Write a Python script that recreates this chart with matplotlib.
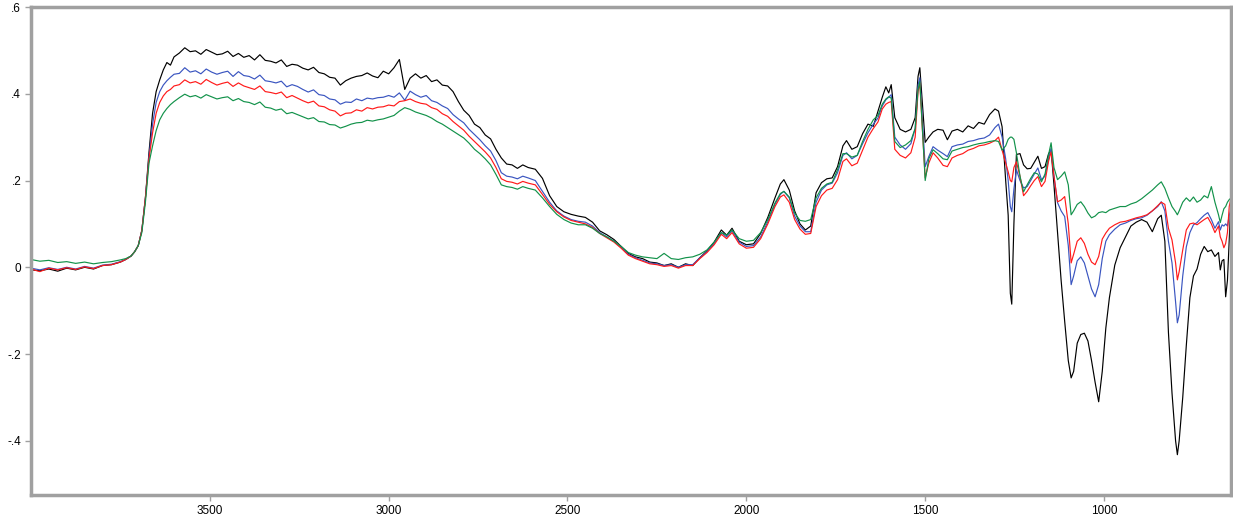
import matplotlib

matplotlib.use("Agg")
import matplotlib.pyplot as plt
import numpy as np

# Wavenumber grid (cm-1), shared by all four spectra
wavenumber = [
    # baseline
    4000, 3975, 3950, 3925, 3900, 3875, 3850, 3825, 3800, 3775, 3750,
    # O-H rise
    3735, 3720, 3710, 3700, 3690, 3680, 3670, 3660, 3650, 3640, 3630, 3620, 3610, 3600,
    # broad plateau
    3585, 3570, 3555, 3540, 3525, 3510, 3495, 3480, 3465, 3450,
    3435, 3420, 3405, 3390, 3375, 3360, 3345, 3330, 3315, 3300,
    3285, 3270, 3255, 3240, 3225, 3210, 3195, 3180, 3165, 3150,
    3135, 3120, 3105, 3090, 3075, 3060, 3045, 3030, 3015, 3000,
    2985, 2970, 2955, 2940, 2925, 2910, 2895, 2880, 2865, 2850,
    2835, 2820, 2805, 2790, 2775, 2760, 2745, 2730, 2715, 2700,
    2685, 2670, 2655, 2640, 2625, 2610,
    # valley
    2590, 2570, 2550, 2530, 2510, 2490, 2470, 2450, 2430, 2410,
    2390, 2370, 2350, 2330, 2310, 2290, 2270, 2250, 2230, 2210,
    2190, 2170, 2150, 2130,
    2110, 2090, 2070, 2055, 2040, 2020, 2000, 1980, 1960, 1940,
    1920, 1905, 1895, 1880, 1865, 1850, 1835, 1820,
    # fingerprint region
    1805, 1790, 1775, 1760, 1745, 1730, 1720, 1705, 1690, 1675,
    1660, 1645, 1632, 1620, 1610, 1602, 1595, 1585, 1570, 1555,
    1540, 1528, 1520, 1515, 1508, 1500, 1490, 1478, 1465, 1450,
    1438, 1425, 1410, 1395, 1380, 1365, 1350, 1335, 1320, 1305,
    1295, 1285, 1275, 1268, 1262, 1258, 1252, 1245, 1235, 1225,
    1215, 1205, 1195, 1185, 1175, 1165, 1155, 1148, 1140, 1130,
    1120, 1110, 1100, 1092, 1085, 1075, 1065, 1055, 1045, 1035,
    1025, 1015, 1005, 995, 985, 970, 955, 940, 925, 910,
    895, 880, 865, 850, 840, 830, 820, 810, 800, 795,
    790, 780, 770, 760, 750, 740, 730, 720, 710, 700,
    690, 680, 675, 670, 665, 660, 655, 650, 645,
]

black = [
    -0.006, -0.008, -0.004, -0.009, -0.002, -0.006, 0.000, -0.004, 0.004, 0.006, 0.012,
    0.018, 0.026, 0.036, 0.050, 0.085, 0.160, 0.265, 0.355, 0.405, 0.432, 0.455, 0.472, 0.466, 0.485,
    0.494, 0.506, 0.497, 0.499, 0.491, 0.502, 0.496, 0.490, 0.492, 0.498,
    0.486, 0.493, 0.484, 0.488, 0.478, 0.490, 0.477, 0.475, 0.471, 0.478,
    0.463, 0.468, 0.466, 0.459, 0.455, 0.461, 0.449, 0.446, 0.438, 0.436,
    0.420, 0.430, 0.436, 0.440, 0.442, 0.448, 0.441, 0.437, 0.452, 0.446,
    0.460, 0.479, 0.410, 0.436, 0.446, 0.436, 0.442, 0.428, 0.432, 0.420,
    0.418, 0.405, 0.382, 0.362, 0.350, 0.330, 0.322, 0.305, 0.296, 0.272,
    0.252, 0.238, 0.236, 0.228, 0.236, 0.230,
    0.226, 0.205, 0.165, 0.140, 0.128, 0.122, 0.118, 0.115, 0.104, 0.084,
    0.075, 0.064, 0.048, 0.032, 0.024, 0.020, 0.012, 0.010, 0.004, 0.008,
    0.000, 0.008, 0.004, 0.022,
    0.038, 0.058, 0.086, 0.074, 0.090, 0.060, 0.052, 0.054, 0.078, 0.115,
    0.160, 0.192, 0.202, 0.178, 0.130, 0.100, 0.086, 0.095,
    0.172, 0.195, 0.204, 0.206, 0.232, 0.280, 0.292, 0.272, 0.278, 0.308,
    0.330, 0.325, 0.360, 0.392, 0.416, 0.402, 0.421, 0.345, 0.318, 0.312,
    0.318, 0.345, 0.440, 0.460, 0.380, 0.288, 0.300, 0.312, 0.318, 0.316,
    0.294, 0.314, 0.318, 0.312, 0.326, 0.320, 0.334, 0.330, 0.352, 0.365,
    0.360, 0.324, 0.200, 0.120, -0.060, -0.085, 0.100, 0.260, 0.262, 0.236,
    0.227, 0.228, 0.242, 0.256, 0.228, 0.232, 0.262, 0.270, 0.190, 0.080,
    -0.030, -0.125, -0.215, -0.255, -0.240, -0.175, -0.155, -0.152, -0.170, -0.215,
    -0.265, -0.310, -0.240, -0.140, -0.070, 0.005, 0.045, 0.070, 0.095, 0.104,
    0.110, 0.104, 0.082, 0.112, 0.120, 0.060, -0.150, -0.290, -0.400, -0.432,
    -0.400, -0.300, -0.180, -0.070, -0.020, -0.004, 0.030, 0.048, 0.036, 0.040,
    0.025, 0.034, -0.006, 0.015, 0.018, -0.068, -0.030, 0.063, 0.163,
]

blue = [
    -0.002, -0.006, -0.001, -0.005, 0.000, -0.004, 0.002, -0.002, 0.005, 0.007, 0.013,
    0.018, 0.026, 0.036, 0.050, 0.085, 0.160, 0.255, 0.330, 0.380, 0.405, 0.420, 0.430, 0.438, 0.445,
    0.447, 0.460, 0.450, 0.453, 0.446, 0.457, 0.450, 0.445, 0.449, 0.452,
    0.440, 0.451, 0.442, 0.440, 0.434, 0.443, 0.430, 0.428, 0.425, 0.429,
    0.416, 0.421, 0.417, 0.410, 0.404, 0.409, 0.398, 0.396, 0.388, 0.386,
    0.376, 0.381, 0.380, 0.388, 0.384, 0.390, 0.388, 0.391, 0.392, 0.396,
    0.392, 0.402, 0.385, 0.406, 0.398, 0.392, 0.396, 0.384, 0.380, 0.372,
    0.366, 0.352, 0.342, 0.333, 0.318, 0.306, 0.294, 0.280, 0.268, 0.246,
    0.218, 0.210, 0.208, 0.204, 0.210, 0.206,
    0.200, 0.175, 0.150, 0.130, 0.118, 0.110, 0.106, 0.104, 0.095, 0.080,
    0.070, 0.060, 0.046, 0.030, 0.022, 0.016, 0.010, 0.008, 0.004, 0.006,
    0.000, 0.006, 0.006, 0.022,
    0.036, 0.055, 0.080, 0.070, 0.084, 0.058, 0.048, 0.050, 0.070, 0.105,
    0.145, 0.168, 0.175, 0.160, 0.118, 0.095, 0.082, 0.082,
    0.150, 0.178, 0.190, 0.194, 0.218, 0.258, 0.264, 0.250, 0.258, 0.285,
    0.310, 0.330, 0.344, 0.372, 0.386, 0.392, 0.398, 0.300, 0.282, 0.272,
    0.285, 0.320, 0.420, 0.437, 0.340, 0.232, 0.255, 0.278, 0.270, 0.262,
    0.255, 0.278, 0.282, 0.284, 0.290, 0.292, 0.296, 0.298, 0.305, 0.322,
    0.330, 0.300, 0.250, 0.200, 0.140, 0.128, 0.180, 0.225, 0.200, 0.183,
    0.186, 0.200, 0.215, 0.229, 0.202, 0.210, 0.250, 0.275, 0.210, 0.149,
    0.130, 0.117, 0.050, -0.040, -0.020, 0.015, 0.024, 0.010, -0.020, -0.050,
    -0.068, -0.040, 0.020, 0.060, 0.075, 0.088, 0.098, 0.102, 0.108, 0.112,
    0.114, 0.120, 0.130, 0.140, 0.151, 0.130, 0.060, 0.010, -0.080, -0.128,
    -0.110, -0.020, 0.047, 0.080, 0.098, 0.103, 0.112, 0.120, 0.126, 0.110,
    0.090, 0.105, 0.086, 0.098, 0.095, 0.100, 0.095, 0.120, 0.133,
]

red = [
    -0.004, -0.010, -0.002, -0.006, -0.001, -0.005, 0.001, -0.003, 0.004, 0.006, 0.012,
    0.018, 0.026, 0.036, 0.050, 0.085, 0.160, 0.250, 0.310, 0.355, 0.380, 0.395, 0.405, 0.410, 0.418,
    0.421, 0.432, 0.425, 0.428, 0.422, 0.433, 0.426, 0.420, 0.424, 0.427,
    0.417, 0.425, 0.418, 0.414, 0.410, 0.418, 0.405, 0.403, 0.400, 0.404,
    0.391, 0.396, 0.390, 0.384, 0.379, 0.383, 0.372, 0.370, 0.363, 0.360,
    0.349, 0.355, 0.356, 0.363, 0.360, 0.368, 0.365, 0.369, 0.370, 0.374,
    0.372, 0.382, 0.384, 0.388, 0.382, 0.378, 0.376, 0.368, 0.364, 0.354,
    0.348, 0.336, 0.326, 0.316, 0.302, 0.290, 0.278, 0.266, 0.252, 0.230,
    0.204, 0.198, 0.196, 0.192, 0.198, 0.194,
    0.190, 0.168, 0.145, 0.128, 0.116, 0.108, 0.104, 0.100, 0.092, 0.078,
    0.068, 0.058, 0.044, 0.028, 0.020, 0.014, 0.008, 0.006, 0.002, 0.004,
    -0.002, 0.004, 0.004, 0.020,
    0.034, 0.052, 0.076, 0.066, 0.080, 0.054, 0.044, 0.046, 0.066, 0.100,
    0.140, 0.162, 0.167, 0.150, 0.110, 0.088, 0.076, 0.078,
    0.140, 0.165, 0.178, 0.182, 0.202, 0.244, 0.250, 0.234, 0.240, 0.270,
    0.300, 0.320, 0.335, 0.365, 0.376, 0.380, 0.382, 0.272, 0.258, 0.252,
    0.264, 0.300, 0.405, 0.425, 0.320, 0.206, 0.240, 0.264, 0.252, 0.235,
    0.232, 0.252, 0.258, 0.262, 0.270, 0.274, 0.280, 0.282, 0.286, 0.292,
    0.300, 0.270, 0.240, 0.220, 0.200, 0.197, 0.230, 0.243, 0.210, 0.165,
    0.175, 0.188, 0.200, 0.209, 0.186, 0.198, 0.245, 0.266, 0.210, 0.151,
    0.155, 0.163, 0.100, 0.010, 0.030, 0.060, 0.068, 0.055, 0.030, 0.012,
    0.006, 0.025, 0.065, 0.079, 0.090, 0.098, 0.104, 0.106, 0.110, 0.114,
    0.117, 0.121, 0.130, 0.142, 0.150, 0.145, 0.090, 0.063, 0.010, -0.029,
    -0.010, 0.040, 0.086, 0.100, 0.102, 0.098, 0.104, 0.110, 0.115, 0.100,
    0.080, 0.095, 0.070, 0.060, 0.045, 0.055, 0.080, 0.140, 0.160,
]

green = [
    0.018, 0.014, 0.016, 0.011, 0.013, 0.009, 0.012, 0.008, 0.011, 0.013, 0.017,
    0.020, 0.026, 0.036, 0.050, 0.080, 0.150, 0.240, 0.280, 0.315, 0.340, 0.355, 0.366, 0.375, 0.382,
    0.391, 0.399, 0.393, 0.396, 0.390, 0.398, 0.393, 0.388, 0.391, 0.393,
    0.384, 0.389, 0.382, 0.380, 0.375, 0.381, 0.369, 0.367, 0.362, 0.365,
    0.354, 0.357, 0.352, 0.347, 0.342, 0.345, 0.336, 0.335, 0.329, 0.328,
    0.321, 0.325, 0.330, 0.333, 0.334, 0.339, 0.337, 0.340, 0.342, 0.346,
    0.350, 0.360, 0.368, 0.364, 0.358, 0.354, 0.350, 0.344, 0.336, 0.330,
    0.322, 0.314, 0.306, 0.298, 0.286, 0.272, 0.262, 0.250, 0.236, 0.214,
    0.190, 0.186, 0.184, 0.180, 0.186, 0.182,
    0.178, 0.160, 0.140, 0.122, 0.110, 0.102, 0.098, 0.098, 0.090, 0.078,
    0.070, 0.060, 0.048, 0.034, 0.028, 0.024, 0.022, 0.020, 0.032, 0.020,
    0.018, 0.022, 0.024, 0.030,
    0.040, 0.058, 0.080, 0.074, 0.086, 0.066, 0.060, 0.062, 0.080, 0.110,
    0.148, 0.170, 0.175, 0.162, 0.125, 0.108, 0.106, 0.110,
    0.160, 0.182, 0.192, 0.196, 0.225, 0.262, 0.262, 0.254, 0.258, 0.290,
    0.318, 0.340, 0.350, 0.376, 0.388, 0.393, 0.390, 0.290, 0.276, 0.282,
    0.292, 0.320, 0.410, 0.428, 0.320, 0.200, 0.250, 0.271, 0.262, 0.250,
    0.248, 0.268, 0.272, 0.276, 0.278, 0.282, 0.285, 0.287, 0.290, 0.292,
    0.290, 0.270, 0.280, 0.295, 0.300, 0.300, 0.295, 0.264, 0.210, 0.174,
    0.190, 0.205, 0.218, 0.215, 0.197, 0.215, 0.260, 0.287, 0.230, 0.202,
    0.210, 0.220, 0.190, 0.121, 0.130, 0.145, 0.151, 0.140, 0.125, 0.114,
    0.118, 0.126, 0.128, 0.126, 0.132, 0.136, 0.140, 0.140, 0.146, 0.150,
    0.158, 0.168, 0.178, 0.190, 0.197, 0.182, 0.160, 0.140, 0.128, 0.121,
    0.130, 0.150, 0.160, 0.152, 0.162, 0.150, 0.155, 0.165, 0.160, 0.186,
    0.150, 0.121, 0.103, 0.120, 0.135, 0.140, 0.150, 0.156, 0.160,
]

x_ticks = [3500, 3000, 2500, 2000, 1500, 1000]
y_ticks = [0.6, 0.4, 0.2, 0.0, -0.2, -0.4]
y_tick_labels = [".6", ".4", ".2", "0", "-.2", "-.4"]

plt.rcParams["font.family"] = ["Liberation Sans", "DejaVu Sans"]

fig = plt.figure(figsize=(12.33, 5.23), dpi=100)
ax = fig.add_axes([0.0251, 0.0535, 0.9733, 0.9331])

for values, colour in [
    (black, "#000000"),
    (blue, "#3a55c0"),
    (red, "#ff1a1a"),
    (green, "#12924a"),
]:
    ax.plot(wavenumber, values, color=colour, lw=0.85)

ax.set_xlim(4000, 645)
ax.set_ylim(-0.525, 0.6)

ax.set_xticks(x_ticks)
ax.set_xticklabels([str(t) for t in x_ticks])
ax.set_yticks(y_ticks)
ax.set_yticklabels(y_tick_labels)
ax.tick_params(axis="both", direction="out", length=4, width=1,
               color="#a0a0a0", labelsize=8.5, labelcolor="#000000", pad=3)

for spine in ax.spines.values():
    spine.set_color("#a0a0a0")
    spine.set_linewidth(2.5)

fig.savefig("out.png", dpi=100)
